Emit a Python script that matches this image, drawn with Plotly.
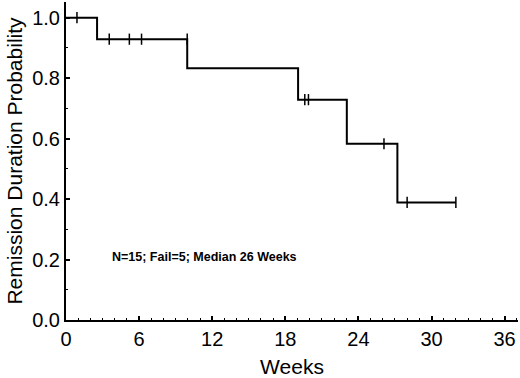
import plotly.graph_objects as go

# Kaplan-Meier step data (event times and survival after each step)
step_times = [0, 2.55, 9.95, 19.05, 23.05, 27.2]
step_surv = [1.0, 0.929, 0.833, 0.729, 0.583, 0.389]
end_time = 32.0

# Censored observations
cens_times = [0.9, 3.55, 5.2, 6.2, 9.95, 19.6, 19.9, 26.1, 28.0, 32.0]
cens_surv = [1.0, 0.929, 0.929, 0.929, 0.929, 0.729, 0.729, 0.583, 0.389, 0.389]

x_ticks = [0, 6, 12, 18, 24, 30, 36]
y_ticks = [0.0, 0.2, 0.4, 0.6, 0.8, 1.0]
y_tick_labels = ["0.0", "0.2", "0.4", "0.6", "0.8", "1.0"]

annotation_text = "N=15; Fail=5; Median 26 Weeks"

line_x = step_times + [end_time]
line_y = step_surv + [step_surv[-1]]

fig = go.Figure()
fig.add_trace(go.Scatter(
    x=line_x, y=line_y, mode="lines", line=dict(shape="hv", color="black", width=2),
    hoverinfo="skip", showlegend=False,
))
fig.add_trace(go.Scatter(
    x=cens_times, y=cens_surv, mode="markers",
    marker=dict(symbol="line-ns", size=8, line=dict(color="black", width=1.5)),
    showlegend=False,
))

fig.add_annotation(
    x=11.4, y=0.208, text="<b>" + annotation_text + "</b>", showarrow=False,
    font=dict(family="Liberation Sans, Arial, sans-serif", size=12.5, color="black"),
)

font = dict(family="Liberation Sans, Arial, sans-serif", size=20, color="black")

fig.update_layout(
    width=520, height=378,
    margin=dict(l=66, r=2, t=2, b=58),
    paper_bgcolor="white", plot_bgcolor="white",
    font=font,
    xaxis=dict(
        range=[0, 37.1], tickvals=x_ticks, ticks="inside", ticklen=4, tickwidth=1.5,
        tickcolor="black", showline=True, linecolor="black", linewidth=2,
        showgrid=False, zeroline=False, tickfont=font,
        minor=dict(dtick=1, ticks="inside", ticklen=2, tickcolor="black", tickwidth=1, showgrid=False),
        title=dict(text="Weeks", font=dict(family="Liberation Sans, Arial, sans-serif", size=21), standoff=10),
        automargin=False,
    ),
    yaxis=dict(
        range=[0, 1.052], tickvals=y_ticks, ticktext=y_tick_labels, ticks="inside", ticklen=4,
        tickwidth=1.5, tickcolor="black", showline=True, linecolor="black", linewidth=2,
        showgrid=False, zeroline=False, tickfont=font,
        minor=dict(dtick=0.1, ticks="inside", ticklen=2, tickcolor="black", tickwidth=1, showgrid=False),
        title=dict(text="Remission Duration Probability",
                   font=dict(family="Liberation Sans, Arial, sans-serif", size=21), standoff=4),
        automargin=False,
    ),
)

fig.write_html(
    "out.html",
    config={"displayModeBar": False},
    post_script="document.body.style.margin='0';document.body.style.padding='0';",
)
